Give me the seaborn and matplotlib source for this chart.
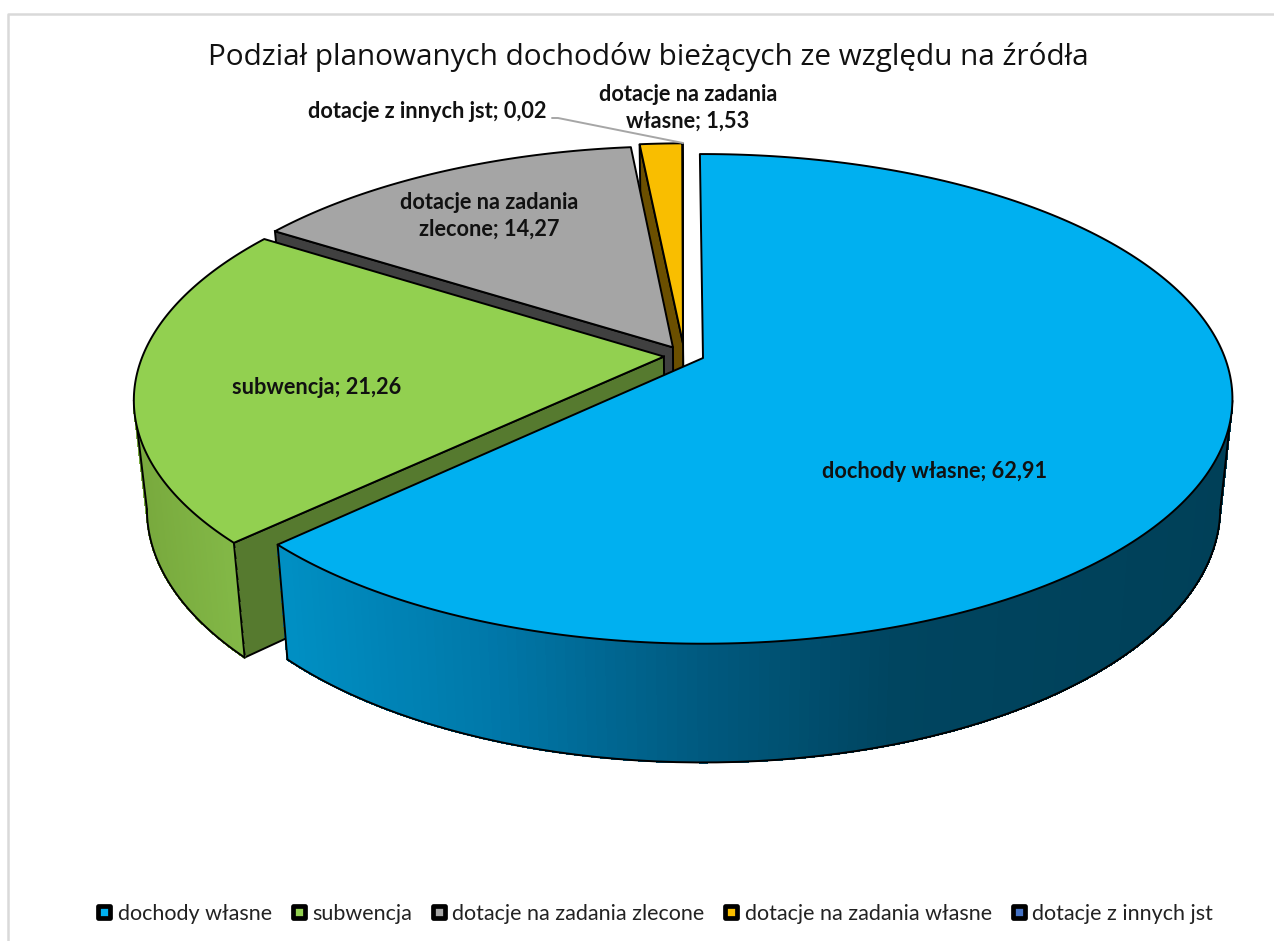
import numpy as np
import matplotlib
matplotlib.use('Agg')
import matplotlib.pyplot as plt
from matplotlib.collections import PolyCollection
from matplotlib.colors import to_rgb
from matplotlib.lines import Line2D
from matplotlib.markers import MarkerStyle
from matplotlib.patches import Polygon
import seaborn as sns

# data
names = ['dochody własne', 'subwencja', 'dotacje na zadania zlecone',
         'dotacje na zadania własne', 'dotacje z innych jst']
values = [62.91, 21.26, 14.27, 1.53, 0.02]

title = 'Podział planowanych dochodów bieżących ze względu na źródła'
top_colors = ['#00B0F0', '#92D050', '#A5A5A5', '#F9BE00', '#4472C4']
inner_wall_colors = ['#00608a', '#567A2F', '#404040', '#6B4F00', '#203864']

# explode offset of every slice, in units of the pie radius
explode_u = [0.0, -0.075, -0.058, -0.0387, -0.0387]
explode_v = [0.0, 0.006, 0.045, 0.062, 0.062]

# perspective of the pie
CX, CY = 703, 358
A, B, K = 522, 238, 0.167
START = -0.4


def project(u, v, low=False):
    u = np.asarray(u, dtype=float)
    v = np.asarray(v, dtype=float)
    x = CX + A * u / (1 + K * v)
    y = CY - B * v / (1 + K * v)
    if low:
        x = CX + (x - CX) * 0.977
        y = y * 1.04 + 93
    return x, y


def wall_color(stops, x):
    xs = [s[0] for s in stops]
    cols = np.array([to_rgb(s[1]) for s in stops])
    return [np.interp(x, xs, cols[:, i]) for i in range(3)]


wall_stops = {
    0: [(278, '#0090C4'), (500, '#0077A8'), (700, '#005A80'), (900, '#004560'), (1232, '#004058')],
    1: [(134, '#78A93D'), (245, '#84BA48')],
}

sns.set_theme(style='white')
plt.rcParams['font.family'] = ['Lato', 'DejaVu Sans']
palette = sns.color_palette(top_colors)

fig = plt.figure(figsize=(12.74, 9.41), dpi=100)
ax = fig.add_axes([0, 0, 1, 1])
ax.set_xlim(0, 1274)
ax.set_ylim(941, 0)
ax.axis('off')

# chart frame
ax.plot([8, 8, 1274], [941, 14, 14], color='#d9d9d9', lw=1.8, zorder=0)

edges = START + 360 * np.concatenate([[0], np.cumsum(values)]) / np.sum(values)

z = 1
for i in [4, 3, 2, 1, 0]:
    th = np.radians(np.linspace(edges[i], edges[i + 1], 240))
    u = np.sin(th) + explode_u[i]
    v = np.cos(th) + explode_v[i]
    x_top, y_top = project(u, v)
    x_low, y_low = project(u, v, low=True)
    ax_top = project(explode_u[i], explode_v[i])
    ax_low = project(explode_u[i], explode_v[i], low=True)

    # flat wall along the first edge of the slice, blue one has none
    if i > 0:
        ax.add_patch(Polygon([ax_top, (x_top[0], y_top[0]), (x_low[0], y_low[0]), ax_low],
                             closed=True, facecolor=inner_wall_colors[i], edgecolor='black',
                             lw=1.4, zorder=z))
        z += 1

    # curved outer wall, seen from the widest point of the pie to the slice edge
    if i in wall_stops:
        if i == 0:
            vis = np.arange(np.argmax(x_top), len(th))
        else:
            vis = np.arange(0, np.argmin(x_top) + 1)
        quads, cols = [], []
        for j in vis[:-1]:
            quads.append([(x_top[j], y_top[j]), (x_top[j + 1], y_top[j + 1]),
                          (x_low[j + 1], y_low[j + 1]), (x_low[j], y_low[j])])
            cols.append(wall_color(wall_stops[i], x_top[j]))
        ax.add_collection(PolyCollection(quads, facecolors=cols, edgecolors=cols, lw=0.8,
                                         antialiaseds=False, zorder=z))
        z += 1
        ax.plot(x_low[vis], y_low[vis], color='black', lw=1.4, zorder=z)
        for j in (vis[0], vis[-1]):
            ax.plot([x_top[j], x_low[j]], [y_top[j], y_low[j]], color='black', lw=1.4, zorder=z)
        z += 1

    pts = [ax_top] + list(zip(x_top, y_top))
    ax.add_patch(Polygon(pts, closed=True, facecolor=palette[i], edgecolor='black',
                         lw=1.4, joinstyle='round', zorder=z))
    z += 1

# data labels
label_font = dict(fontweight='bold', fontsize=15.7, color='#111111', zorder=z)
fmt = [f'{n}; {val:.2f}'.replace('.', ',') for n, val in zip(names, values)]
ax.text(935, 471, fmt[0], ha='center', va='center', **label_font)
ax.text(317, 387, fmt[1], ha='center', va='center', **label_font)
ax.text(489, 216, fmt[2].replace('zadania ', 'zadania\n'), ha='center', va='center',
        linespacing=1.3, **label_font)
ax.text(688, 108, fmt[3].replace('zadania ', 'zadania\n'), ha='center', va='center',
        linespacing=1.3, **label_font)
ax.text(547, 111, fmt[4], ha='right', va='center', **label_font)
ax.plot([552, 558, 683], [118, 118, 143], color='#a6a6a6', lw=1.4, zorder=z)

ax.text(648, 57, title, ha='center', va='center', fontsize=21.4, color='#111111',
        family=['Open Sans', 'DejaVu Sans'])

swatch = MarkerStyle('s', joinstyle='round')
handles = [Line2D([], [], ls='none', marker=swatch, markersize=8.5, markerfacecolor=c,
                  markeredgecolor='black', markeredgewidth=3.4) for c in palette]
leg = ax.legend(handles, names, loc='center', bbox_to_anchor=(654, 914),
                bbox_transform=ax.transData, ncol=5, frameon=False, fontsize=15.5,
                columnspacing=0.82, handletextpad=0.2, handlelength=0.85, labelcolor='#222222')

fig.savefig('out.png', dpi=100)
